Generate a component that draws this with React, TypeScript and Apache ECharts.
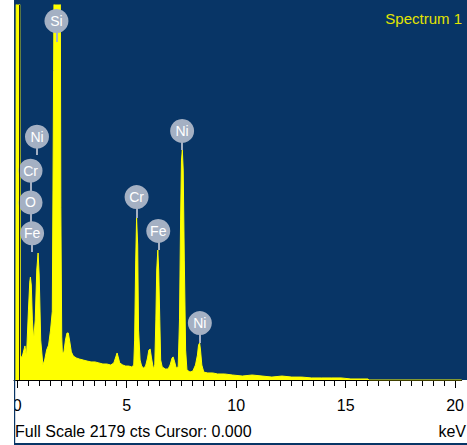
import React, { useEffect, useRef } from "react";
import * as echarts from "echarts";

// Spectrum: energy (keV) and counts
const spectrumKeV = [
  -0.15, -0.07, -0.05, 0.11, 0.14, 0.21, 0.35, 0.42, 0.51, 0.57, 0.6, 0.64, 0.69, 0.75, 0.82, 0.89, 0.95, 1.0,
  1.07, 1.17, 1.25, 1.34, 1.43, 1.52, 1.6, 1.66, 1.69, 1.96, 1.99, 2.03, 2.06, 2.13, 2.2, 2.27, 2.33, 2.4, 2.47,
  2.56, 2.7, 2.83, 3.01, 3.19, 3.37, 3.55, 3.73, 3.91, 4.09, 4.27, 4.41, 4.5, 4.56, 4.61, 4.68, 4.82, 4.95, 5.09,
  5.23, 5.32, 5.36, 5.41, 5.45, 5.5, 5.54, 5.61, 5.68, 5.77, 5.86, 5.95, 6.01, 6.07, 6.13, 6.22, 6.28, 6.33, 6.37,
  6.42, 6.46, 6.51, 6.55, 6.62, 6.76, 6.89, 6.98, 7.07, 7.12, 7.19, 7.26, 7.35, 7.41, 7.46, 7.5, 7.54, 7.58, 7.63,
  7.69, 7.75, 7.89, 8.02, 8.14, 8.23, 8.28, 8.33, 8.37, 8.43, 8.52, 8.7, 8.93, 9.15, 9.47, 9.83, 10.28, 10.73,
  11.18, 11.63, 12.09, 12.54, 12.99, 13.44, 13.89, 14.34, 14.79, 15.24, 15.7, 16.02, 16.07, 20.3,
];
const spectrumCounts = [
  0, 0, 2600, 2600, 145, 128, 198, 134, 407, 569, 598, 552, 349, 232, 349, 639, 738, 610,
  232, 87, 116, 174, 203, 290, 400, 1800, 2600, 2600, 1000, 250, 157, 163, 232, 273, 273, 221, 163,
  139, 128, 122, 116, 110, 105, 105, 99, 93, 93, 87, 99, 134, 157, 134, 99, 87, 81, 81,
  76, 87, 232, 697, 941, 784, 290, 116, 81, 70, 81, 128, 174, 180, 128, 64, 87, 349, 639,
  755, 639, 349, 116, 76, 64, 64, 87, 128, 134, 105, 70, 76, 349, 930, 1278, 1336, 1220, 697,
  174, 58, 46, 52, 87, 145, 203, 215, 174, 87, 46, 41, 41, 35, 35, 29, 23, 29,
  23, 17, 23, 17, 17, 12, 12, 12, 12, 6, 6, 6, 0, 0,
];

// Peak identification labels
const labelNames = ["Si", "Ni", "Cr", "O", "Fe", "Cr", "Fe", "Ni", "Ni"];
const labelKeV = [1.79, 0.9, 0.605, 0.605, 0.677, 5.45, 6.44, 7.53, 8.34];
const labelCounts = [2086, 1414, 1216, 1032, 852, 1063, 866, 1447, 331];
const stemEndCounts = [1964, 1307, 1092, 918, 744, 941, 755, 1336, 215];

const xTickLabels = [0, 5, 10, 15, 20];
const fullScale = 2179;
const cursorKeV = 0.09;

const FONT = "'Liberation Sans', Arial, sans-serif";
const BG = "#083566";
const LABEL_GRAY = "#a4b0c3";

export default function App() {
  const ref = useRef<HTMLDivElement>(null);

  useEffect(() => {
    if (!ref.current) return;
    const chart = echarts.init(ref.current, undefined, { renderer: "svg" });

    const spectrum = spectrumKeV.map((k, i) => [k, spectrumCounts[i]]);
    const minorTicks = Array.from({ length: 41 }, (_, i) => i * 0.5);
    const labels = labelNames.map((n, i) => ({ name: n, value: [labelKeV[i], labelCounts[i]] }));
    const stems = labelNames.map((_, i) => ({
      coords: [
        [labelKeV[i], labelCounts[i]],
        [labelKeV[i], stemEndCounts[i]],
      ],
    }));

    chart.setOption({
      animation: false,
      grid: { left: 14, right: 0, top: 5, bottom: 65, containLabel: false },
      xAxis: [
        {
          type: "value",
          min: -0.15,
          max: 20.3,
          position: "bottom",
          axisLine: { show: true, lineStyle: { color: "#000", width: 1 } },
          axisTick: { show: true, customValues: xTickLabels, length: 8, lineStyle: { color: "#000" } },
          axisLabel: {
            show: true,
            customValues: xTickLabels,
            fontSize: 16,
            lineHeight: 16,
            color: "#000",
            fontFamily: FONT,
            margin: 17,
          },
          splitLine: { show: false },
        },
        {
          type: "value",
          min: -0.15,
          max: 20.3,
          position: "bottom",
          axisLine: { show: false },
          axisTick: { show: true, customValues: minorTicks, length: 6, lineStyle: { color: "#000" } },
          axisLabel: { show: false },
          splitLine: { show: false },
        },
      ],
      yAxis: { type: "value", min: 0, max: fullScale, show: false },
      graphic: [
        { type: "rect", silent: true, z: -1, shape: { x: 14, y: 0, width: 453, height: 380 }, style: { fill: BG } },
        { type: "rect", silent: true, z: 9, shape: { x: 0, y: 381, width: 14, height: 64 }, style: { fill: "#fff" } },
        { type: "rect", silent: true, z: 10, shape: { x: 14, y: 0, width: 1.2, height: 445 }, style: { fill: BG } },
        { type: "rect", silent: true, z: 10, shape: { x: 14, y: 443, width: 453, height: 2 }, style: { fill: BG } },
        {
          type: "text",
          silent: true,
          z: 10,
          x: 462,
          y: 18,
          style: { text: "Spectrum 1", fill: "#e4e400", font: `15px ${FONT}`, align: "right", verticalAlign: "middle" },
        },
        {
          type: "text",
          silent: true,
          z: 10,
          x: 15,
          y: 431,
          style: { text: "Full Scale 2179 cts Cursor: 0.000", fill: "#000", font: `16px ${FONT}`, align: "left", verticalAlign: "middle" },
        },
        {
          type: "text",
          silent: true,
          z: 10,
          x: 466,
          y: 431,
          style: { text: "keV", fill: "#000", font: `16px ${FONT}`, align: "right", verticalAlign: "middle" },
        },
      ],
      series: [
        {
          type: "line",
          data: spectrum,
          symbol: "none",
          clip: true,
          z: 2,
          lineStyle: { color: "#ffff00", width: 1 },
          areaStyle: { color: "#ffff00", opacity: 1 },
          markLine: {
            silent: true,
            symbol: ["none", "none"],
            label: { show: false },
            lineStyle: { color: "#2b2b14", width: 1, type: "solid" },
            data: [{ xAxis: cursorKeV }],
          },
        },
        {
          type: "lines",
          coordinateSystem: "cartesian2d",
          z: 3,
          silent: true,
          lineStyle: { color: LABEL_GRAY, width: 2, opacity: 1 },
          data: stems,
        },
        {
          type: "scatter",
          z: 4,
          silent: true,
          symbol: "circle",
          symbolSize: 24,
          itemStyle: { color: LABEL_GRAY, opacity: 1 },
          label: {
            show: true,
            position: "inside",
            formatter: "{b}",
            color: "#fff",
            fontSize: 14,
            fontFamily: FONT,
          },
          data: labels,
        },
      ],
    });

    return () => chart.dispose();
  }, []);

  return (
    <div
      ref={ref}
      style={{ position: "fixed", left: 0, top: 0, width: 467, height: 445, background: "#fff" }}
    />
  );
}
